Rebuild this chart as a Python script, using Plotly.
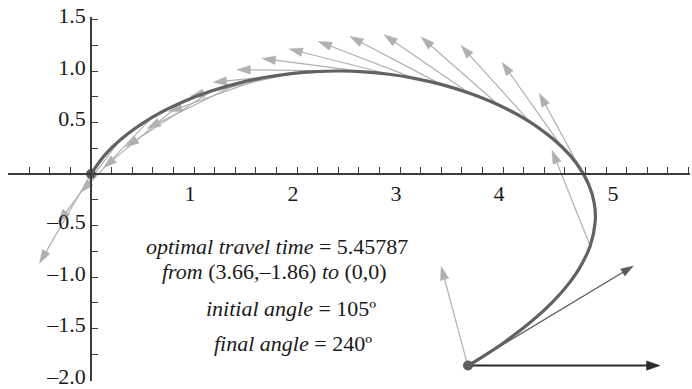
import math
import plotly.graph_objects as go

# Optimal trajectory from (3.66, -1.86) back to the origin
path_x = [3.6586, 3.8529, 4.0204, 4.2890, 4.4875, 4.6326, 4.7367, 4.8463, 4.8958,
          4.8855, 4.8294, 4.7108, 4.5679, 4.2606, 3.9571, 3.6692, 3.3978, 3.1402,
          2.8931, 2.6531, 2.4167, 2.1807, 1.9418, 1.6966, 1.4416, 1.1735, 0.8894,
          0.5890, 0.2803, 0.1372, 0.0]
path_y = [-1.8637, -1.7420, -1.6280, -1.4203, -1.2361, -1.0716, -0.9238, -0.6986,
          -0.4586, -0.2812, -0.0957, 0.1063, 0.2673, 0.5055, 0.6699, 0.7866, 0.8700,
          0.9289, 0.9683, 0.9914, 0.9999, 0.9945, 0.9747, 0.9392, 0.8850, 0.8076,
          0.6993, 0.5473, 0.3287, 0.1882, 0.0]

# Heading of the boat (unit vectors) at sample points along the path
heading_deg = [105, 111.75, 118.5, 125.25, 132, 138.75, 145.5, 152.25, 159, 165.75,
               172.5, 179.25, 186, 192.75, 199.5, 206.25, 213, 219.75, 226.5, 233.25, 240]
heading_x = [3.6586, 4.8463, 4.8294, 4.5679, 4.2606, 3.9571, 3.6692, 3.3978, 3.1402,
             2.8931, 2.6531, 2.4167, 2.1807, 1.9418, 1.6966, 1.4416, 1.1735, 0.8894,
             0.5890, 0.2803, 0.0]
heading_y = [-1.8637, -0.6986, -0.0957, 0.2673, 0.5055, 0.6699, 0.7866, 0.8700, 0.9289,
             0.9683, 0.9914, 0.9999, 0.9945, 0.9747, 0.9392, 0.8850, 0.8076, 0.6993,
             0.5473, 0.3287, 0.0]

# Start point, ground velocity and current there
start = (3.66, -1.86)
velocity = (1.605, 0.966)
current = (1.864, 0.0)

# Axis ticks ("5" is nudged right so it clears the path)
NB = "\u00a0"
x_ticks = [1, 2, 3, 4, 5]
x_tick_text = ["1", "2", "3", "4", NB * 4 + "5"]
y_ticks = [-2.0, -1.5, -1.0, -0.5, 0.5, 1.0, 1.5]
y_tick_text = ["\u20132.0", "\u20131.5", "\u20131.0", "\u20130.5", "0.5", "1.0", "1.5"]

X_RANGE = [-0.8058, 5.8155]
Y_RANGE = [-2.0097, 1.5243]
SERIF = "Liberation Serif, Times New Roman, serif"


def arrow_parts(x0, y0, dx, dy, head_len, head_w):
    """Return shaft segment and triangular head polygon for one arrow."""
    tx, ty = x0 + dx, y0 + dy
    L = math.hypot(dx, dy)
    ux, uy = dx / L, dy / L
    bx, by = tx - head_len * ux, ty - head_len * uy
    nx, ny = -uy, ux
    shaft = ([x0, bx + 0.3 * head_len * ux, None], [y0, by + 0.3 * head_len * uy, None])
    head = ([tx, bx + head_w * nx, bx - head_w * nx, tx, None],
            [ty, by + head_w * ny, by - head_w * ny, ty, None])
    return shaft, head


def arrow_traces(bases, vectors, color, width, head_len, head_w):
    sx, sy, hx, hy = [], [], [], []
    for (x0, y0), (dx, dy) in zip(bases, vectors):
        (a, b), (c, d) = arrow_parts(x0, y0, dx, dy, head_len, head_w)
        sx += a; sy += b; hx += c; hy += d
    return [
        go.Scatter(x=sx, y=sy, mode="lines", line=dict(color=color, width=width),
                   hoverinfo="skip", showlegend=False),
        go.Scatter(x=hx, y=hy, mode="lines", fill="toself", fillcolor=color,
                   line=dict(color=color, width=0.5), hoverinfo="skip", showlegend=False),
    ]


fig = go.Figure()

# heading arrows (unit length)
bases = list(zip(heading_x, heading_y))
vecs = [(math.cos(math.radians(a)), math.sin(math.radians(a))) for a in heading_deg]
for tr in arrow_traces(bases, vecs, "#b0b0b3", 1.2, 0.13, 0.042):
    fig.add_trace(tr)

# ground velocity at start
for tr in arrow_traces([start], [velocity], "#5a5a5a", 1.3, 0.12, 0.04):
    fig.add_trace(tr)

# optimal path
fig.add_trace(go.Scatter(x=path_x, y=path_y, mode="lines", line_shape="spline",
                         line=dict(color="#626262", width=3.2),
                         hoverinfo="skip", showlegend=False))

# current at start
for tr in arrow_traces([start], [current], "#2a2a2a", 2.0, 0.13, 0.045):
    fig.add_trace(tr)

# endpoints
fig.add_trace(go.Scatter(x=[start[0], 0], y=[start[1], 0], mode="markers",
                         marker=dict(color="#5e5e5e", size=10),
                         hoverinfo="skip", showlegend=False))

txt = dict(family=SERIF, size=22, color="#1a1a1a")
notes = [
    (1.806, -0.699, "<i>optimal travel time</i> = 5.45787"),
    (1.786, -0.942, "<i>from</i> (3.66,\u20131.86) <i>to</i> (0,0)"),
    (1.942, -1.301, "<i>initial angle</i> = 105\u00ba"),
    (1.961, -1.641, "<i>final angle</i> = 240\u00ba"),
]
for x, y, t in notes:
    fig.add_annotation(x=x, y=y, xref="x", yref="y", text=t, showarrow=False,
                       font=txt, xanchor="center", yanchor="middle")

axis_common = dict(showgrid=False, zeroline=False, showline=True, linecolor="#3c3c3c",
                   linewidth=1.6, ticks="inside", ticklen=6, tickwidth=1.2,
                   tickcolor="#3c3c3c", tickfont=txt, anchor="free",
                   automargin=False, ticklabeloverflow="allow")

fig.update_layout(
    width=692, height=389,
    margin=dict(l=8, r=2, t=17, b=8, autoexpand=False),
    paper_bgcolor="white", plot_bgcolor="white",
    xaxis=dict(range=X_RANGE, tickmode="array", tickvals=x_ticks, ticktext=x_tick_text,
               position=(0 - Y_RANGE[0]) / (Y_RANGE[1] - Y_RANGE[0]),
               ticklabelshift=-4,
               minor=dict(dtick=0.2, tick0=0, ticks="inside", ticklen=6, tickwidth=1.2,
                          tickcolor="#3c3c3c"),
               **axis_common),
    yaxis=dict(range=Y_RANGE, tickmode="array", tickvals=y_ticks, ticktext=y_tick_text,
               position=(0 - X_RANGE[0]) / (X_RANGE[1] - X_RANGE[0]),
               ticklabelshift=-4,
               minor=dict(dtick=0.25, tick0=0, ticks="inside", ticklen=6, tickwidth=1.2,
                          tickcolor="#3c3c3c"),
               **axis_common),
)

fig.write_html("out.html")
